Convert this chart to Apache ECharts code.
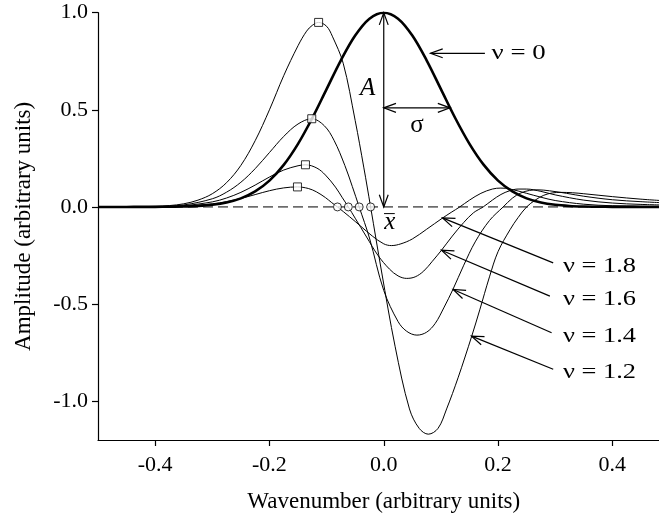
<!DOCTYPE html>
<html><head><meta charset="utf-8">
<script src="https://cdn.jsdelivr.net/npm/echarts@6/dist/echarts.min.js"></script>
<style>html,body{margin:0;padding:0;background:#fff}#c{width:659px;height:525px}</style>
</head><body><div id="c"></div>
<script>
// ---- axis ticks ----
const xTicks = [-0.4, -0.2, 0, 0.2, 0.4];
const yTicks = [-1.0, -0.5, 0, 0.5, 1.0];

// ---- nu = 0 (Gaussian) ----
const g0X = [-0.5,-0.475,-0.45,-0.425,-0.4,-0.375,-0.35,-0.325,-0.3,-0.275,-0.25,-0.225,-0.2,-0.175,-0.15,-0.125,-0.1,-0.075,-0.05,-0.025,0,0.025,0.05,0.075,0.1,0.125,0.15,0.175,0.2,0.225,0.25,0.275,0.3,0.325,0.35,0.375,0.4,0.425,0.45,0.475,0.5];
const g0Y = [0,0,0,0.0001,0.0003,0.0009,0.0022,0.0051,0.0111,0.0228,0.0439,0.0796,0.1353,0.2163,0.3247,0.4578,0.6065,0.7548,0.8825,0.9692,1.0,0.9692,0.8825,0.7548,0.6065,0.4578,0.3247,0.2163,0.1353,0.0796,0.0439,0.0228,0.0111,0.0051,0.0022,0.0009,0.0003,0.0001,0,0,0];

// ---- nu = 1.2 ----
const n12X = [-0.5,-0.45,-0.4,-0.375,-0.35,-0.325,-0.3,-0.275,-0.25,-0.225,-0.2,-0.175,-0.15,-0.135,-0.125,-0.114,-0.1,-0.09,-0.071,-0.05,-0.035,-0.023,-0.004,0.02,0.045,0.062,0.078,0.095,0.11,0.13,0.154,0.168,0.185,0.2,0.221,0.235,0.25,0.265,0.28,0.295,0.31,0.33,0.35,0.4,0.45,0.5];
const n12Y = [0,0.0003,0.003,0.007,0.016,0.035,0.068,0.125,0.214,0.341,0.50,0.676,0.83,0.905,0.935,0.95,0.93,0.879,0.74,0.445,0.205,0,-0.33,-0.72,-1.04,-1.14,-1.17,-1.14,-1.04,-0.88,-0.665,-0.53,-0.36,-0.23,-0.117,-0.055,0,0.035,0.06,0.072,0.075,0.073,0.068,0.053,0.04,0.03];

// ---- nu = 1.4 ----
const n14X = [-0.5,-0.45,-0.4,-0.35,-0.3,-0.275,-0.25,-0.225,-0.2,-0.175,-0.15,-0.126,-0.104,-0.087,-0.068,-0.055,-0.043,-0.025,0,0.025,0.04,0.058,0.075,0.09,0.105,0.121,0.14,0.16,0.185,0.209,0.225,0.24,0.255,0.27,0.29,0.32,0.35,0.4,0.45,0.5];
const n14Y = [0,0.0003,0.0019,0.0103,0.042,0.076,0.127,0.197,0.28,0.363,0.427,0.454,0.418,0.343,0.213,0.105,0,-0.16,-0.43,-0.59,-0.64,-0.66,-0.645,-0.6,-0.52,-0.425,-0.3,-0.18,-0.07,0,0.045,0.072,0.085,0.088,0.083,0.07,0.055,0.037,0.027,0.02];

// ---- nu = 1.6 ----
const n16X = [-0.5,-0.4,-0.35,-0.3,-0.275,-0.25,-0.225,-0.2,-0.175,-0.15,-0.137,-0.117,-0.102,-0.0845,-0.073,-0.062,-0.05,-0.03,-0.01,0.01,0.025,0.04,0.055,0.07,0.085,0.101,0.12,0.14,0.157,0.174,0.19,0.205,0.22,0.235,0.25,0.275,0.3,0.35,0.4,0.45,0.5];
const n16Y = [0,0.0012,0.0066,0.026,0.046,0.075,0.1125,0.154,0.19,0.212,0.217,0.2,0.164,0.102,0.05,0,-0.058,-0.155,-0.25,-0.32,-0.355,-0.368,-0.36,-0.33,-0.28,-0.223,-0.15,-0.08,-0.03,0,0.035,0.064,0.083,0.092,0.092,0.08,0.062,0.035,0.02,0.013,0.009];

// ---- nu = 1.8 ----
const n18X = [-0.5,-0.4,-0.35,-0.3,-0.275,-0.25,-0.225,-0.2,-0.175,-0.151,-0.132,-0.118,-0.102,-0.091,-0.081,-0.06,-0.04,-0.02,0,0.0135,0.03,0.05,0.075,0.103,0.118,0.133,0.15,0.17,0.19,0.205,0.22,0.25,0.275,0.3,0.35,0.4,0.45,0.5];
const n18Y = [0,0.0008,0.0042,0.016,0.0275,0.0436,0.0635,0.0835,0.098,0.103,0.095,0.078,0.048,0.022,0,-0.05,-0.1,-0.15,-0.19,-0.199,-0.19,-0.165,-0.115,-0.057,-0.028,0,0.035,0.07,0.092,0.097,0.093,0.07,0.05,0.033,0.014,0.006,0.004,0.003];

// ---- markers: maxima (squares) and zero crossings (circles) ----
const maxX = [-0.114, -0.126, -0.137, -0.151];
const maxY = [0.95, 0.454, 0.217, 0.103];
const zeroX = [-0.023, -0.043, -0.062, -0.081];
const zeroY = [0, 0, 0, 0];

// ---- dashed baseline ----
const baseX = [-0.5, 0.5];
const baseY = [0, 0];

// ---- annotations (data units) ----
// [x1, y1, x2, y2, headAtStart, headAtEnd]
const arrows = [
  [0, 0, 0, 1.0, 1, 1],
  [0, 0.51, 0.116, 0.51, 1, 1],
  [0.177, 0.791, 0.0818, 0.791, 0, 1],
  [0.2965, -0.2878, 0.1028, -0.0565, 0, 1],
  [0.2907, -0.4594, 0.101, -0.223, 0, 1],
  [0.2937, -0.6475, 0.1214, -0.425, 0, 1],
  [0.2965, -0.836, 0.1536, -0.665, 0, 1]
];
// [text, x, y, align, fontSize, italic, scaleX]
const texts = [
  ['\u03bd = 0', 0.1886, 0.791, 'left', 22, 0, 1.22],
  ['\u03bd = 1.8', 0.3135, -0.305, 'left', 22, 0, 1.2],
  ['\u03bd = 1.6', 0.3135, -0.473, 'left', 22, 0, 1.2],
  ['\u03bd = 1.4', 0.3135, -0.665, 'left', 22, 0, 1.2],
  ['\u03bd = 1.2', 0.3135, -0.85, 'left', 22, 0, 1.2],
  ['A', -0.028, 0.6115, 'center', 25, 1, 1],
  ['\u03c3', 0.058, 0.419, 'center', 25, 0, 1],
  ['x', 0.0105, -0.078, 'center', 25, 1, 1]
];
const overbars = [[0.0005, -0.0344, 0.0193, -0.0344]];

const zip = (a, b) => a.map((v, i) => [v, b[i]]);
const FONT = 'Liberation Serif';

function lineSeries(x, y, w) {
  return { type: 'line', data: zip(x, y), smooth: 0.35, showSymbol: false,
    lineStyle: { color: '#000', width: w }, silent: true, z: 3 };
}

const chart = echarts.init(document.getElementById('c'), null, { renderer: 'canvas' });
chart.setOption({
  animation: false,
  backgroundColor: '#fff',
  grid: { left: 98, right: -10.5, top: 12.7, bottom: 85, outerBoundsMode: 'none', containLabel: false },
  xAxis: {
    type: 'value', min: -0.5, max: 0.5,
    name: 'Wavenumber (arbitrary units)', nameLocation: 'middle', nameGap: 50,
    nameTextStyle: { fontFamily: FONT, fontSize: 23, color: '#000' },
    axisLine: { show: true, onZero: false, lineStyle: { color: '#000', width: 1.2 } },
    axisTick: { show: true, inside: false, length: 6, customValues: xTicks, lineStyle: { color: '#000', width: 1.2 } },
    axisLabel: { show: true, margin: 14, customValues: xTicks, fontFamily: FONT, fontSize: 22, color: '#000',
      formatter: v => v.toFixed(1) },
    splitLine: { show: false }
  },
  yAxis: {
    type: 'value', min: -1.2, max: 1.0,
    name: 'Amplitude (arbitrary units)', nameLocation: 'middle', nameGap: 63, nameRotate: 90,
    nameTextStyle: { fontFamily: FONT, fontSize: 23, color: '#000' },
    axisLine: { show: true, onZero: false, lineStyle: { color: '#000', width: 1.2 } },
    axisTick: { show: true, inside: false, length: 6, customValues: yTicks, lineStyle: { color: '#000', width: 1.2 } },
    axisLabel: { show: true, margin: 10, customValues: yTicks, fontFamily: FONT, fontSize: 22, color: '#000',
      formatter: v => v.toFixed(1) },
    splitLine: { show: false }
  },
  series: [
    { type: 'line', data: zip(baseX, baseY), showSymbol: false, silent: true, z: 2,
      lineStyle: { color: '#000', width: 1, type: [10, 5] } },
    lineSeries(n18X, n18Y, 1),
    lineSeries(n16X, n16Y, 1),
    lineSeries(n14X, n14Y, 1),
    lineSeries(n12X, n12Y, 1),
    lineSeries(g0X, g0Y, 2.6),
    { type: 'scatter', data: zip(maxX, maxY), symbol: 'rect', symbolSize: 8, silent: true, z: 5,
      itemStyle: { color: '#fff', borderColor: '#000', borderWidth: 1 } },
    { type: 'scatter', data: zip(zeroX, zeroY), symbol: 'circle', symbolSize: 8, silent: true, z: 5,
      itemStyle: { color: '#fff', borderColor: '#000', borderWidth: 1 } },
    { type: 'custom', silent: true, z: 6, data: arrows.map((a, i) => i),
      renderItem: function (params, api) {
        const a = arrows[params.dataIndex];
        const p1 = api.coord([a[0], a[1]]), p2 = api.coord([a[2], a[3]]);
        const children = [{ type: 'line', shape: { x1: p1[0], y1: p1[1], x2: p2[0], y2: p2[1] },
          style: { stroke: '#000', lineWidth: 1.2 } }];
        const head = (tip, from) => {
          const dx = from[0] - tip[0], dy = from[1] - tip[1];
          const L = Math.hypot(dx, dy), ux = dx / L, uy = dy / L;
          const len = 13, ang = 20 * Math.PI / 180;
          const c = Math.cos(ang), s = Math.sin(ang);
          const r1 = [ux * c - uy * s, ux * s + uy * c], r2 = [ux * c + uy * s, -ux * s + uy * c];
          return { type: 'polyline', shape: { points: [[tip[0] + r1[0] * len, tip[1] + r1[1] * len], tip, [tip[0] + r2[0] * len, tip[1] + r2[1] * len]] },
            style: { stroke: '#000', lineWidth: 1.2, fill: null } };
        };
        if (a[5]) children.push(head(p2, p1));
        if (a[4]) children.push(head(p1, p2));
        return { type: 'group', children };
      } },
    { type: 'custom', silent: true, z: 6, data: texts.map((t, i) => i),
      renderItem: function (params, api) {
        const t = texts[params.dataIndex];
        const p = api.coord([t[1], t[2]]);
        return { type: 'text', x: p[0], y: p[1], scaleX: t[6], style: { text: t[0], fontFamily: FONT, fontSize: t[4],
          fontStyle: t[5] ? 'italic' : 'normal', fill: '#000', align: t[3], verticalAlign: 'middle' } };
      } },
    { type: 'custom', silent: true, z: 6, data: overbars.map((t, i) => i),
      renderItem: function (params, api) {
        const b = overbars[params.dataIndex];
        const p1 = api.coord([b[0], b[1]]), p2 = api.coord([b[2], b[3]]);
        return { type: 'line', shape: { x1: p1[0], y1: p1[1], x2: p2[0], y2: p2[1] }, style: { stroke: '#000', lineWidth: 1 } };
      } }
  ]
});
</script></body></html>
